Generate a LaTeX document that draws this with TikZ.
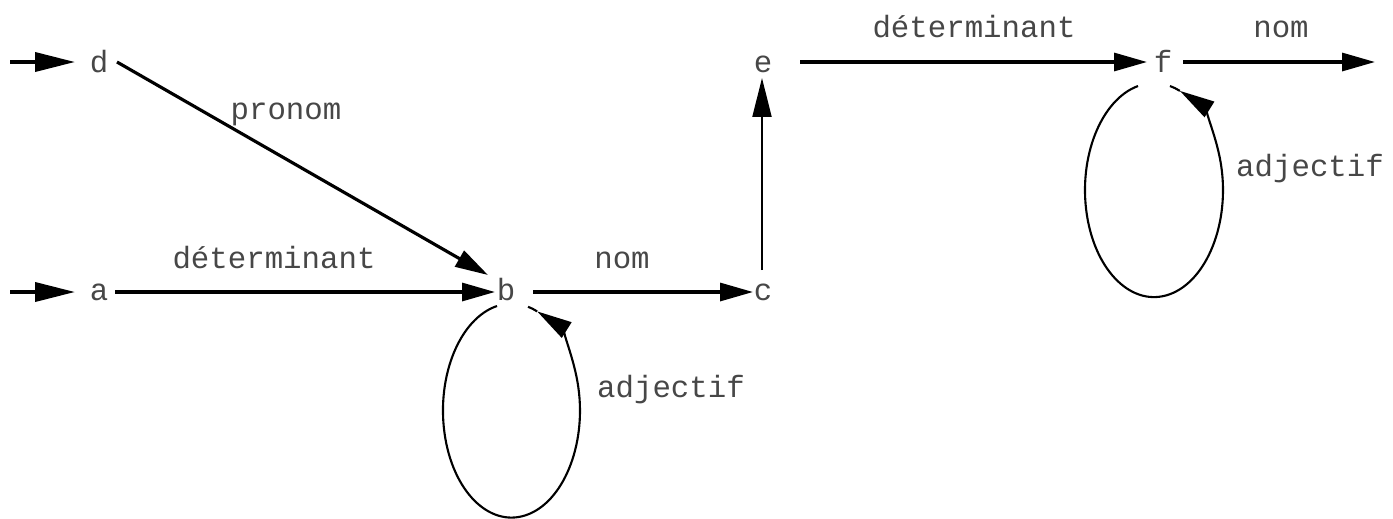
\documentclass[tikz,border=0pt]{standalone}
\usepackage{fontspec}
\setmainfont{Liberation Mono}
\usetikzlibrary{arrows.meta}
\begin{document}
\begin{tikzpicture}[x=0.02cm,y=0.02cm,
  lbl/.style={font=\fontsize{17.5}{20}\selectfont, text=black!72, inner sep=0, anchor=base},
  st/.style={lbl},
  conn/.style={line width=1.8pt, -{Triangle[length=0.66cm,width=0.36cm]}},
  entry/.style={line width=2.1pt, -{Triangle[length=0.8cm,width=0.38cm]}},
  upconn/.style={line width=1.2pt, -{Triangle[length=0.78cm,width=0.38cm]}},
  loopline/.style={line width=1.2pt},
  looparrow/.style={loopline, -{Triangle[length=0.7cm,width=0.36cm]}}
]
\useasboundingbox (0,0) rectangle (1393,-518);

% states
\node[st] (d) at (99,-72) {d};
\node[st] (a) at (99,-300) {a};
\node[st] (b) at (506,-300) {b};
\node[st] (c) at (763,-300) {c};
\node[st] (e) at (763,-72) {e};
\node[st] (f) at (1163,-72) {f};

% free ends
\coordinate (ind) at (10,-62);
\coordinate (ina) at (10,-292);
\coordinate (out) at (1375,-62);

% labels
\node[lbl] (l1) at (286,-119) {pronom};
\node[lbl] (l2) at (274,-268) {déterminant};
\node[lbl] (l3) at (622,-268) {nom};
\node[lbl] (l4) at (671,-397) {adjectif};
\node[lbl] (l5) at (974,-37) {déterminant};
\node[lbl] (l6) at (1281,-37) {nom};
\node[lbl] (l7) at (1310,-176) {adjectif};

% connectors
\draw[entry] (ind) -- ([shift={(-24,10)}]d.base);
\draw[entry] (ina) -- ([shift={(-24,8)}]a.base);
\draw[conn] ([shift={(18,10)}]d.base) -- ([shift={(-18,25)}]b.base);
\draw[conn] ([shift={(16,8)}]a.base) -- ([shift={(-11,8)}]b.base);
\draw[conn] ([shift={(27,8)}]b.base) -- ([shift={(-10,8)}]c.base);
\draw[upconn] ([shift={(-1,30)}]c.base) -- ([shift={(-1,-6)}]e.base);
\draw[conn] ([shift={(37,10)}]e.base) -- ([shift={(-16,10)}]f.base);
\draw[conn] ([shift={(20,10)}]f.base) -- (out);

% loops
\draw[looparrow] ([shift={(-9,-6)}]b.base) arc[start angle=102.2, end angle=428, x radius=68.5, y radius=107] coordinate (bt);
\draw[loopline] (bt) arc[start angle=68, end angle=76, x radius=68.5, y radius=107];
\draw[looparrow] ([shift={(-25,-14)}]f.base) arc[start angle=103.4, end angle=428, x radius=69, y radius=107] coordinate (ft);
\draw[loopline] (ft) arc[start angle=68, end angle=76.6, x radius=69, y radius=107];
\end{tikzpicture}
\end{document}
